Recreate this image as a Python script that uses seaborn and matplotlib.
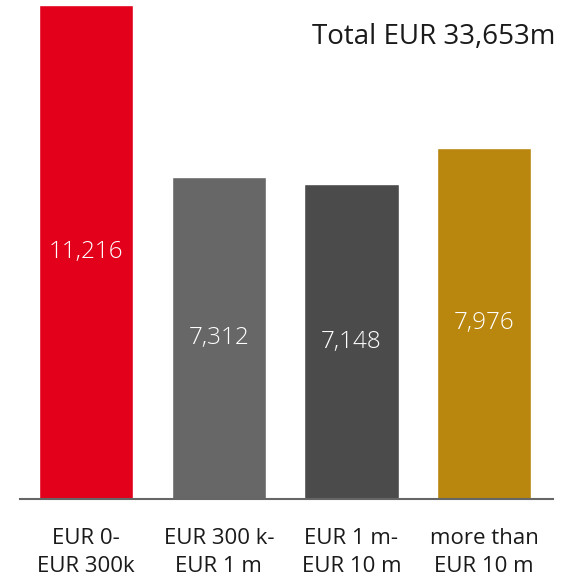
import pandas as pd
import seaborn as sns
import matplotlib.pyplot as plt

# bar values (EUR m) by loan size band
categories = ["EUR 0-\nEUR 300k", "EUR 300 k-\nEUR 1 m", "EUR 1 m-\nEUR 10 m", "more than\nEUR 10 m"]
values = [11216, 7312, 7148, 7976]
colors = ["#E2001A", "#676767", "#4B4B4B", "#B9860E"]
total_label = "Total EUR 33,653m"

df = pd.DataFrame({"band": categories, "amount": values})

sns.set_theme(style="white")
plt.rcParams['font.family'] = ['Open Sans', 'DejaVu Sans']

fig = plt.figure(figsize=(5.7, 5.84), dpi=100)
ax = fig.add_axes([20 / 570, 85 / 584, 533 / 570, 494 / 584])

sns.barplot(data=df, x="band", y="amount", hue="band", palette=colors,
            legend=False, width=0.71, saturation=1, ax=ax)

# value labels in the middle of each bar
for i, v in enumerate(values):
    ax.text(i, v / 2, f"{v:,}", ha="center", va="center", color="white",
            fontsize=17.5, fontweight="light")

fig.text(555 / 570, 1 - 37 / 584, total_label, ha="right", va="center",
         fontsize=20, color="#1a1a1a")

ax.set_xlim(-0.5, 3.52)
ax.set_ylim(0, max(values))
ax.set_xlabel("")
ax.set_ylabel("")
ax.set_yticks([])
ax.tick_params(axis="x", length=0, pad=21, labelsize=16, labelcolor="#1a1a1a")
for lab in ax.get_xticklabels():
    lab.set_linespacing(1.4)

for s in ["top", "right", "left"]:
    ax.spines[s].set_visible(False)
ax.spines["bottom"].set_color("#666666")
ax.spines["bottom"].set_linewidth(1.5)

fig.savefig("out.png", dpi=100)
